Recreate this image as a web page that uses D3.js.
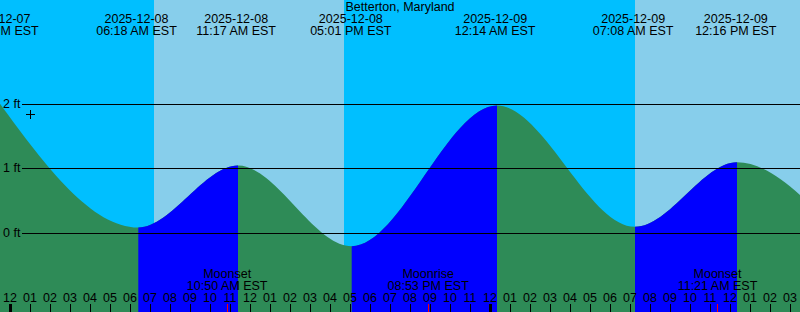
<!DOCTYPE html>
<html><head><meta charset="utf-8">
<script src="https://cdn.jsdelivr.net/npm/d3@7"></script>
<style>
html,body{margin:0;padding:0;background:#fff;}
svg{display:block;}
text{font-family:"Liberation Sans",Arial,sans-serif;font-size:12.5px;fill:#000;}
</style>
</head><body>
<svg id="c" width="800" height="312"></svg>
<script>
const title = "Betterton, Maryland";
// tide curve extremes (hours after 2025-12-08 00:00 EST, feet)
const tideHours = [-0.9, 6.39, 11.375, 17.06, 24.325, 31.225, 36.325, 41.8];
const tideFeet  = [2.17, 0.09, 1.05, -0.20, 1.98, 0.10, 1.10, -0.16];
// tide event labels
const eventDates = ["2025-12-07","2025-12-08","2025-12-08","2025-12-08","2025-12-09","2025-12-09","2025-12-09"];
const eventTimes = ["11:24 PM EST","06:18 AM EST","11:17 AM EST","05:01 PM EST","12:14 AM EST","07:08 AM EST","12:16 PM EST"];
// moon events
const moonNames = ["Moonset","Moonrise","Moonset"];
const moonDates = ["2025-12-08","2025-12-08","2025-12-09"];
const moonTimes = ["10:50 AM EST","08:53 PM EST","11:21 AM EST"];
// daylight periods (hours)
const dayStarts = [7.175, 31.225];
const dayEnds   = [16.675, 40.7];
// hour ticks
const hourTicks  = d3.range(0, 40);
const hourLabels = ["12","01","02","03","04","05","06","07","08","09","10","11",
                    "12","01","02","03","04","05","06","07","08","09","10","11",
                    "12","01","02","03","04","05","06","07","08","09","10","11",
                    "12","01","02","03"];
// y grid
const gridFeet   = [0, 1, 2];
const gridLabels = ["0 ft","1 ft","2 ft"];
// current-time marker
const nowHour = 1.0, nowFeet = 1.84;

const W = 800, H = 312;
const svg = d3.select("#c");
const x = d3.scaleLinear().domain([0, 40]).range([10.5, 810.5]);
const y = d3.scaleLinear().domain([0, 2]).range([233.3, 104.3]);
const base = Date.UTC(2025, 11, 8);
const parse = d3.utcParse("%Y-%m-%d %I:%M %p");
const toHour = (d, t) => (parse(d + " " + t.replace(" EST", "")) - base) / 3.6e6;

// sky
svg.append("rect").attr("width", W).attr("height", H).attr("fill", "#00BFFF");
svg.selectAll("rect.day").data(dayStarts).enter().append("rect").attr("class","day")
  .attr("x", d => x(d)).attr("y", 0)
  .attr("width", (d, i) => Math.min(W, x(dayEnds[i])) - x(d)).attr("height", H)
  .attr("fill", "#87CEEB").attr("shape-rendering", "crispEdges");

// tide area
const pts = tideHours.map((h, i) => ({h, f: tideFeet[i]}));
const area = d3.area().x(d => x(d.h)).y0(H).y1(d => y(d.f)).curve(d3.curveMonotoneX);
svg.append("path").attr("d", area(pts)).attr("fill", "#2E8B57");
const defs = svg.append("defs");
const rising = d3.range(tideHours.length - 1).filter(i => tideFeet[i + 1] > tideFeet[i]);
rising.forEach(i => {
  defs.append("clipPath").attr("id", "r" + i).append("rect")
    .attr("x", x(tideHours[i])).attr("y", 0)
    .attr("width", x(tideHours[i + 1]) - x(tideHours[i])).attr("height", H);
  svg.append("path").attr("d", area(pts)).attr("fill", "#0000FF").attr("clip-path", "url(#r" + i + ")");
});

// grid lines
svg.selectAll("line.grid").data(gridFeet).enter().append("line")
  .attr("x1", 22).attr("x2", W)
  .attr("y1", d => Math.floor(y(d)) + 0.5).attr("y2", d => Math.floor(y(d)) + 0.5)
  .attr("stroke", "#000").attr("stroke-width", 1).attr("shape-rendering", "crispEdges");
svg.selectAll("text.gl").data(gridFeet).enter().append("text")
  .attr("x", 3).attr("y", d => Math.floor(y(d)) + 4).text((d, i) => gridLabels[i]);

// title
svg.append("text").attr("x", 400).attr("y", 11).attr("text-anchor", "middle").text(title);
// tide events
eventDates.forEach((d, i) => {
  const cx = x(toHour(d, eventTimes[i]));
  svg.append("text").attr("x", cx).attr("y", 23).attr("text-anchor", "middle").text(d);
  svg.append("text").attr("x", cx).attr("y", 35).attr("text-anchor", "middle").text(eventTimes[i]);
});
// moon events
moonNames.forEach((n, i) => {
  const cx = x(toHour(moonDates[i], moonTimes[i]));
  svg.append("text").attr("x", cx).attr("y", 278).attr("text-anchor", "middle").text(n);
  svg.append("text").attr("x", cx).attr("y", 290).attr("text-anchor", "middle").text(moonTimes[i]);
});
// hour labels & ticks
svg.selectAll("text.hl").data(hourTicks).enter().append("text")
  .attr("x", d => x(d) - 0.5).attr("y", 302).attr("text-anchor", "middle").text((d, i) => hourLabels[i]);
svg.selectAll("line.tk").data(hourTicks).enter().append("line")
  .attr("x1", d => x(d)).attr("x2", d => x(d)).attr("y1", 304).attr("y2", H)
  .attr("stroke", "#000").attr("stroke-width", d => d % 24 === 0 ? 3 : 1).attr("shape-rendering", "crispEdges");
moonNames.forEach((n, i) => {
  const mx = Math.floor(x(toHour(moonDates[i], moonTimes[i]))) + 0.5;
  svg.append("line").attr("x1", mx).attr("x2", mx).attr("y1", 304).attr("y2", H)
    .attr("stroke", "#FF0000").attr("stroke-width", 1).attr("shape-rendering", "crispEdges");
});
// plus marker
const px = Math.floor(x(nowHour)) + 0.5, py = Math.floor(y(nowFeet)) + 0.5;
svg.append("path").attr("d", `M${px - 4.5},${py}H${px + 4.5}M${px},${py - 4.5}V${py + 4.5}`)
  .attr("stroke", "#000").attr("stroke-width", 1).attr("fill", "none").attr("shape-rendering", "crispEdges");
</script>
</body></html>
